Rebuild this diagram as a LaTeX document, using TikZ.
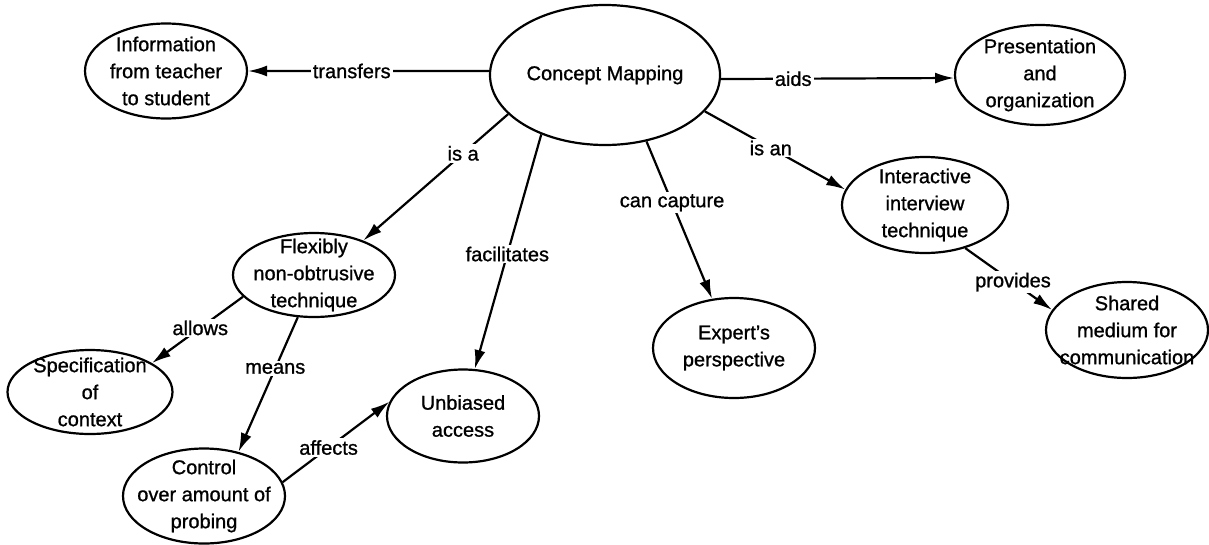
\documentclass[tikz,border=0pt]{standalone}
\usepackage{fontspec}
\setmainfont{Liberation Sans}[FakeBold=1]
\usetikzlibrary{shapes.geometric,arrows.meta}

\tikzset{
  idea/.style={draw, ellipse, line width=2.2pt, inner sep=-30pt, align=center,
    minimum width=162pt, minimum height=95pt, font=\fontsize{20}{27}\selectfont},
  link/.style={line width=2.2pt, -{Latex[length=19pt,width=11pt]}},
  word/.style={fill=white, inner sep=2pt, font=\fontsize{20}{24}\selectfont},
}

\begin{document}
\begin{tikzpicture}[x=1pt, y=-1pt]
  \useasboundingbox (0,0) rectangle (1209,544);
  \node[idea, minimum width=230pt, minimum height=140pt] (cm) at (605,75) {Concept Mapping};
  \node[idea] (info) at (166,71) {Information\\from teacher\\to student};
  \node[idea, minimum width=170pt, minimum height=100pt] (pres) at (1040,75) {Presentation\\and\\organization};
  \node[idea, minimum width=166pt, minimum height=96pt] (inter) at (925,205) {Interactive\\interview\\technique};
  \node[idea, minimum width=162pt, minimum height=96pt] (shared) at (1127,330) {Shared\\medium for\\communication};
  \node[idea, minimum height=84pt] (flex) at (314,275) {Flexibly\\non-obtrusive\\technique};
  \node[idea, minimum width=152pt, minimum height=93pt] (unb) at (463,416) {Unbiased\\access};
  \node[idea, minimum height=100pt] (expert) at (734,348) {Expert's\\perspective};
  \node[idea, minimum width=165pt, minimum height=84pt] (spec) at (90,392) {Specification\\of\\context};
  \node[idea] (ctrl) at (204,496) {Control\\over amount of\\probing};

  \draw[link] (cm.178) -- node[word, pos=0.57] {transfers} (info.0);
  \draw[link] (cm.358) -- node[word, pos=0.31] {aids} (pres.182);
  \draw[link] (cm.202) -- node[word, pos=0.31] {is a} (flex.35);
  \draw[link] (cm.223) -- node[word, pos=0.51] {facilitates} (unb.76);
  \draw[link] (cm.302) -- node[word, pos=0.39] {can capture} (expert.114);
  \draw[link] (cm.340) -- node[word, pos=0.47] {is an} (inter.169);
  \draw[link] (inter.313) -- node[word, pos=0.55] {provides} (shared.165);
  \draw[link] (flex.197) -- node[word, pos=0.47] {allows} (spec.25);
  \draw[link] (flex.249) -- node[word, pos=0.38] {means} (ctrl.52);
  \draw[link] (ctrl.10) -- node[word, pos=0.43] {affects} (unb.169);
\end{tikzpicture}
\end{document}
